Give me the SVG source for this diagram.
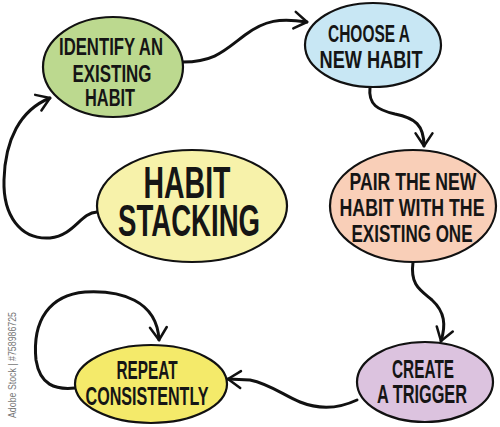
<svg xmlns="http://www.w3.org/2000/svg" width="500" height="427" viewBox="0 0 500 427">
<defs>
<style>
.node{stroke:#111;stroke-width:2.2}
.t{font-family:"Liberation Sans",Arial,sans-serif;font-weight:bold;fill:#151515;text-anchor:middle}
.s{font-size:23px}
.m{font-size:26px}
.l{font-size:44px}
.c{fill:none;stroke:#111;stroke-width:3;stroke-linecap:round;stroke-linejoin:round}
</style>
<marker id="arr" viewBox="0 0 20 20" refX="16" refY="10" markerWidth="21" markerHeight="21" markerUnits="userSpaceOnUse" orient="auto">
<path d="M4,2 L16,10 L4,18" fill="none" stroke="#111" stroke-width="2.4" stroke-linecap="round" stroke-linejoin="round"/>
</marker>
</defs>
<rect width="500" height="427" fill="#fff"/>
<g id="connectors">
<path class="c" marker-end="url(#arr)" d="M183,62 C215,62 225,50 245,35 C265,20 280,18 307,22"/>
<path class="c" marker-end="url(#arr)" d="M370,87 C368,105 378,110 395,114 C415,118 424,125 424,146"/>
<path class="c" marker-end="url(#arr)" d="M413,262 C410,285 420,290 432,300 C445,312 446,325 441,341"/>
<path class="c" marker-end="url(#arr)" d="M357,400 C340,408 320,410 300,402 C285,396 270,384 250,380 L228,379"/>
<path class="c" marker-end="url(#arr)" d="M75,388 C55,390 40,385 36,360 C32,320 50,295 85,292 C120,290 157,300 159,340"/>
<path class="c" marker-end="url(#arr)" d="M97,212 C80,213 75,235 50,238 C20,240 3,215 4,180 C5,140 20,110 50,98"/>
</g>
<g id="identify">
<ellipse class="node" cx="113" cy="67" rx="70" ry="50" fill="#bcd98f"/>
<text class="t s" transform="translate(111,0) scale(.72,1)"><tspan x="0" y="55" textLength="144.4" lengthAdjust="spacingAndGlyphs">IDENTIFY AN</tspan><tspan x="1.4" y="82" textLength="109.7" lengthAdjust="spacingAndGlyphs">EXISTING</tspan><tspan x="-1.4" y="106" textLength="69.4" lengthAdjust="spacingAndGlyphs">HABIT</tspan></text>
</g>
<g id="choose">
<ellipse class="node" cx="373" cy="45" rx="68" ry="42" fill="#c8e7f4"/>
<text class="t s" transform="translate(370,0) scale(.73,1)"><tspan x="-1.4" y="42" textLength="112.3" lengthAdjust="spacingAndGlyphs">CHOOSE A</tspan><tspan x="1.4" y="68" textLength="141.1" lengthAdjust="spacingAndGlyphs">NEW HABIT</tspan></text>
</g>
<g id="stacking">
<ellipse class="node" cx="192" cy="206" rx="95" ry="56" fill="#f7f2aa"/>
<text class="t l" transform="translate(188,0) scale(.635,1)"><tspan x="-1.6" y="198" textLength="137" lengthAdjust="spacingAndGlyphs">HABIT</tspan><tspan x="1.6" y="236" textLength="223.6" lengthAdjust="spacingAndGlyphs">STACKING</tspan></text>
</g>
<g id="pair">
<ellipse class="node" cx="413" cy="206" rx="83" ry="56" fill="#f9cfb8"/>
<text class="t s" transform="translate(412,0) scale(.76,1)"><tspan x="1.3" y="190" textLength="167.1" lengthAdjust="spacingAndGlyphs">PAIR THE NEW</tspan><tspan x="0" y="216" textLength="190.8" lengthAdjust="spacingAndGlyphs">HABIT WITH THE</tspan><tspan x="0" y="242" textLength="159.2" lengthAdjust="spacingAndGlyphs">EXISTING ONE</tspan></text>
</g>
<g id="trigger">
<ellipse class="node" cx="425" cy="382" rx="68" ry="40" fill="#dcc3df"/>
<text class="t m" transform="translate(422,0) scale(.6,1)"><tspan x="1.7" y="378" textLength="103.3" lengthAdjust="spacingAndGlyphs">CREATE</tspan><tspan x="0" y="403" textLength="150" lengthAdjust="spacingAndGlyphs">A TRIGGER</tspan></text>
</g>
<g id="repeat">
<ellipse class="node" cx="151" cy="384" rx="76" ry="39" fill="#f4ea6a"/>
<text class="t m" transform="translate(147,0) scale(.6,1)"><tspan x="0" y="379" textLength="101.7" lengthAdjust="spacingAndGlyphs">REPEAT</tspan><tspan x="0" y="405" textLength="205" lengthAdjust="spacingAndGlyphs">CONSISTENTLY</tspan></text>
</g>
<text transform="translate(16,418) rotate(-90)" font-family="Liberation Sans,Arial,sans-serif" font-size="10.5" fill="#777" textLength="106" lengthAdjust="spacingAndGlyphs">Adobe Stock | #758986725</text>
</svg>
